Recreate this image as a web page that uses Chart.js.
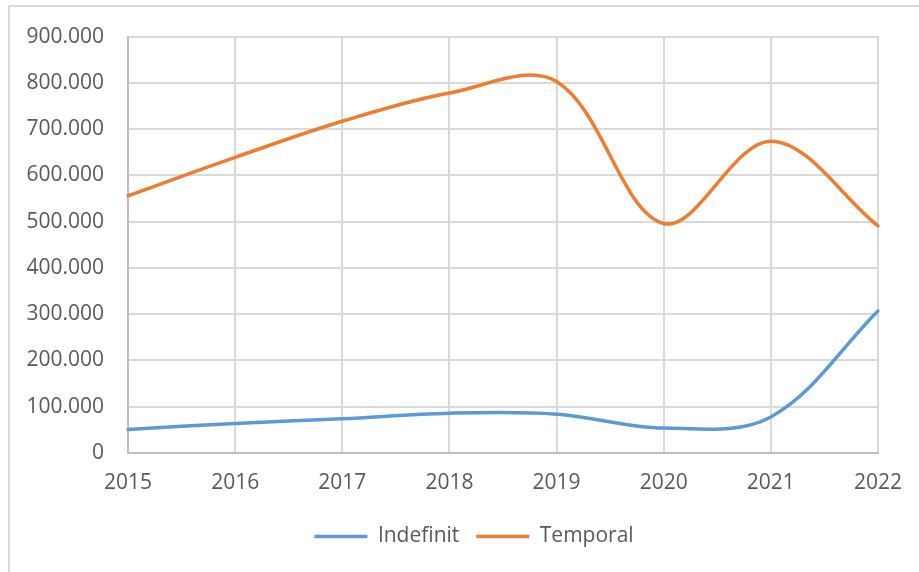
<!DOCTYPE html>
<html>
<head>
<meta charset="utf-8">
<script src="https://cdn.jsdelivr.net/npm/chart.js@4/dist/chart.umd.min.js"></script>
<style>
  html, body { margin: 0; padding: 0; background: #ffffff; overflow: hidden; }
  #frame { position: absolute; left: 8px; top: 5px; width: 1000px; height: 1000px; border: 2px solid #d9d9d9; box-sizing: border-box; }
  #wrap { position: absolute; left: 0; top: 0; width: 919px; height: 572px; }
</style>
</head>
<body>
<div id="frame"></div>
<div id="wrap"><canvas id="c" width="919" height="572"></canvas></div>
<script>
const years = ['2015', '2016', '2017', '2018', '2019', '2020', '2021', '2022'];
const indefinit = [51000, 64000, 74000, 86000, 84000, 54000, 78000, 307000];
const temporal = [556000, 639000, 717000, 778000, 803000, 496000, 674000, 491000];
const seriesNames = ['Indefinit', 'Temporal'];

function fmt(v) {
  return String(Math.round(v)).replace(/\B(?=(\d{3})+(?!\d))/g, '.');
}

const font = { family: '"Open Sans", "Noto Sans", sans-serif', size: 21 };

const shiftLegend = {
  id: 'shiftLegend',
  afterLayout(chart) {
    if (chart.legend) {
      chart.legend.left += 35;
      chart.legend.right += 35;
    }
  }
};

new Chart(document.getElementById('c'), {
  type: 'line',
  data: {
    labels: years,
    datasets: [
      { label: seriesNames[0], data: indefinit, borderColor: '#5b9bd5', backgroundColor: '#5b9bd5', borderWidth: 3.5, pointRadius: 0, tension: 0.35, borderCapStyle: 'round' },
      { label: seriesNames[1], data: temporal, borderColor: '#ed7d31', backgroundColor: '#ed7d31', borderWidth: 3.5, pointRadius: 0, tension: 0.35, borderCapStyle: 'round' }
    ]
  },
  plugins: [shiftLegend],
  options: {
    responsive: false,
    animation: false,
    layout: { padding: { left: 0, top: 35, right: 41, bottom: 15 } },
    plugins: {
      tooltip: { enabled: false },
      legend: {
        position: 'bottom',
        labels: {
          usePointStyle: true,
          pointStyle: 'line',
          pointStyleWidth: 53,
          color: '#595959',
          font: font,
          padding: 17
        }
      }
    },
    scales: {
      x: {
        offset: false,
        grid: { color: '#d9d9d9', lineWidth: 2, drawTicks: false },
        border: { color: '#bfbfbf', width: 2 },
        ticks: { color: '#595959', font: font, padding: 17, maxRotation: 0 },
        afterFit: (s) => { s.height = 56; }
      },
      y: {
        min: 0,
        max: 900000,
        grid: { color: '#d9d9d9', lineWidth: 2, drawTicks: false },
        border: { color: '#bfbfbf', width: 2 },
        ticks: { stepSize: 100000, color: '#595959', font: font, padding: 24, callback: (v) => fmt(v) },
        afterFit: (s) => { s.width = 128; }
      }
    }
  }
});
</script>
</body>
</html>
